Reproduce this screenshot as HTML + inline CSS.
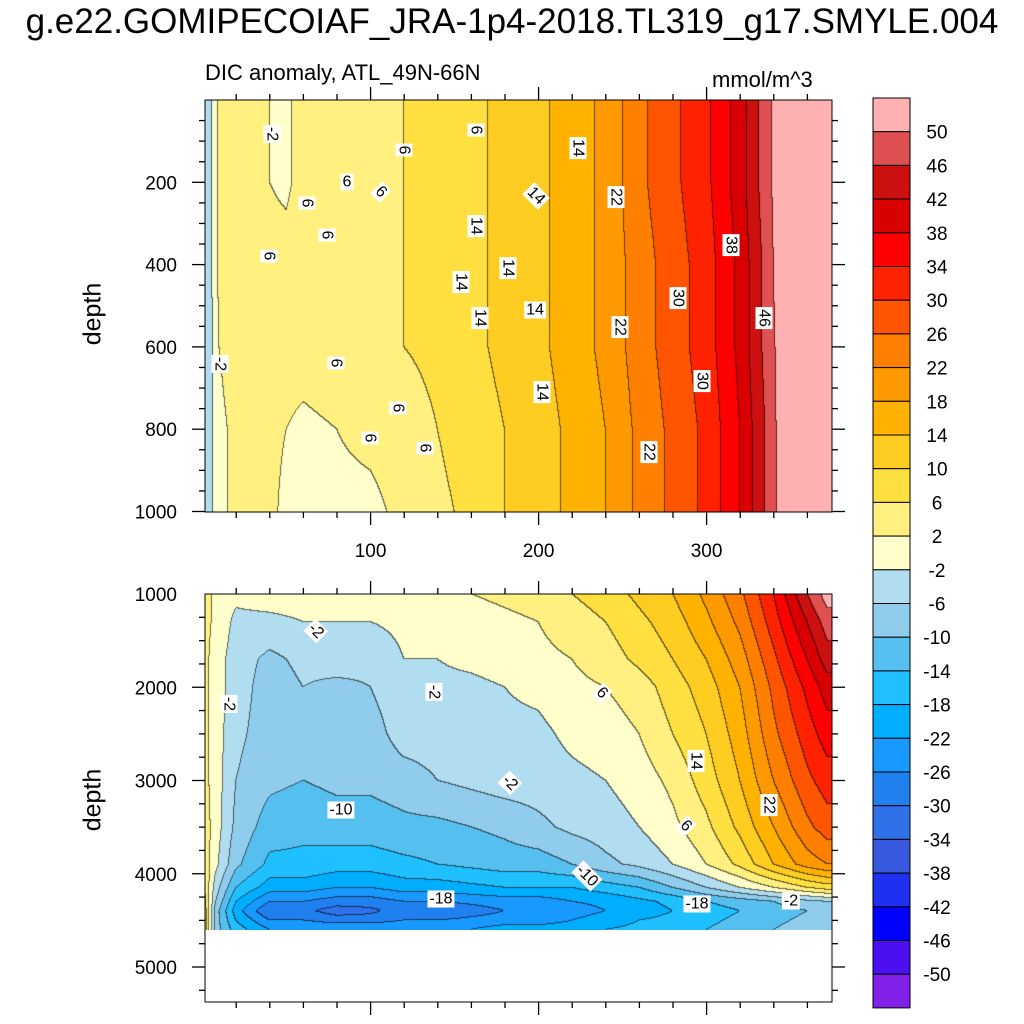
<!DOCTYPE html>
<html><head><meta charset="utf-8">
<style>
html,body{margin:0;padding:0;background:#fff;}
body{width:1024px;height:1024px;position:relative;overflow:hidden;font-family:"Liberation Sans",sans-serif;}
.t{position:absolute;color:#000;white-space:nowrap;}
canvas{position:absolute;}
.lbl{position:absolute;background:#fff;font-size:16px;padding:0 2px;line-height:17px;transform:translate(-50%,-50%) rotate(90deg);}
.lh{transform:translate(-50%,-50%) rotate(0deg);}
.ld{transform:translate(-50%,-50%) rotate(45deg);}
</style></head>
<body>
<div class="t" style="left:0;width:1024px;text-align:center;top:2px;font-size:35px;">g.e22.GOMIPECOIAF_JRA-1p4-2018.TL319_g17.SMYLE.004</div>
<div class="t" style="left:205px;top:60px;font-size:22px;">DIC anomaly, ATL_49N-66N</div>
<div class="t" style="left:712px;top:67px;font-size:22px;">mmol/m^3</div>
<div class="t" style="left:93px;top:314px;font-size:25px;transform:translate(-50%,-50%) rotate(-90deg);">depth</div>
<div class="t" style="left:93px;top:800px;font-size:25px;transform:translate(-50%,-50%) rotate(-90deg);">depth</div>
<canvas id="c1" width="627" height="412" style="left:205px;top:100px;"></canvas>
<canvas id="c2" width="627" height="336" style="left:205px;top:594px;"></canvas>
<svg id="ax" width="1024" height="1024" style="position:absolute;left:0;top:0;"></svg>
<div id="labels"></div>
<script>
// ---- data ----
const levels = [-50,-46,-42,-38,-34,-30,-26,-22,-18,-14,-10,-6,-2,2,6,10,14,18,22,26,30,34,38,42,46,50];
const levelColors = ["#8020E8","#4A10F0","#0000FF","#1E30F0","#3858E0","#3070E8","#2080F0","#1899FF","#00AEFF","#20BFFF","#55C0F0","#90CCEC","#B0DDF0","#FFFFCC","#FFF080","#FFE040","#FFCC22","#FFB300","#FF9900","#FF7F00","#FF5500","#FF2200","#FF0000","#D80000","#CC1010","#E05050","#FFB0B0"];
const topTimes = [0,5,10,20,40,50,60,80,100,120,140,160,180,200,220,240,260,280,300,320,335,345,372];
const topDepths = [0,200,400,600,800,1000];
const topValues = [
[-3,-3,-3,-3,-3,-3],
[-3,-3,-3,-3,-3,-3],
[3,3,3,2,1,1],
[4,4,4,4,3,3],
[2,2,4,4,3,3],
[1,1,4,4,2,1],
[4,4,5,4,1,1],
[5,5,5,5,2,1],
[5,5,5,5,3,1],
[6,6,6,6,4,3],
[8,8,7,7,6,5],
[9,9,9,9,8,7],
[11,11,11,11,10,10],
[13,13,13,13,12,12],
[16,16,16,16,15,15],
[19,19,19,19,18,18],
[25,25,24,24,23,23],
[29,29,28,28,27,27],
[33,33,32,32,31,31],
[40,40,39,39,38,38],
[48,48,47,47,46,46],
[53,53,53,52,52,52],
[56,56,56,56,56,56]];
const botTimes = [0,8,20,40,60,80,100,120,140,160,180,200,220,240,260,280,300,320,340,360,372];
const botDepths = [1000,1300,1700,2000,2500,3000,3500,3900,4150,4300,4400,4500,4600];
const botValues = [
[4,4,4,4,4,4,5,6,8,10,12,12,12],
[1,1,0,0,0,0,0,-1,-4,-6,-8,-8,-8],
[-1,-3,-4,-4,-5,-6,-7,-9,-14,-18,-20,-18,-16],
[0,-3,-7,-8,-8,-9,-12,-15,-20,-26,-30,-26,-22],
[0,-2,-5,-6,-7,-10,-13,-15,-20,-26,-29,-26,-22],
[0,-2,-4,-7,-8,-9,-12,-16,-22,-28,-32,-28,-22],
[0,-2,-5,-6,-8,-9,-12,-16,-22,-28,-31,-28,-22],
[1,-1,-2,-3,-4,-8,-11,-15,-20,-26,-28,-26,-22],
[1,0,-2,-3,-4,-6,-11,-14,-20,-26,-30,-26,-22],
[2,0,-1,-3,-4,-5,-10,-13,-19,-25,-28,-25,-22],
[3,1,0,-2,-3,-4,-9,-12,-18,-24,-26,-24,-20],
[4,2,1,-1,-3,-4,-7,-12,-18,-24,-26,-24,-20],
[6,4,2,1,-1,-3,-5,-10,-18,-22,-24,-22,-20],
[8,6,4,2,0,-2,-4,-7,-16,-21,-22,-20,-18],
[11,9,7,4,2,0,-2,-5,-14,-19,-20,-18,-17],
[14,12,10,8,6,3,1,-2,-10,-17,-18,-17,-16],
[19,17,14,12,10,8,5,2,-6,-14,-16,-15,-14],
[25,23,20,18,16,14,11,7,-2,-12,-14,-13,-12],
[34,32,29,27,25,22,18,14,2,-10,-12,-11,-10],
[46,42,38,35,32,29,25,20,6,-7,-10,-9,-8],
[52,48,44,40,36,32,28,22,8,-6,-8,-8,-8]];
const xTicks = [100,200,300];
const topYTicks = [200,400,600,800,1000];
const botYTicks = [1000,2000,3000,4000,5000];

// ---- scales ----
const X0=205, X1=832;
const xS = t => 202.6 + t*1.68;
const xInv = px => (px-202.6)/1.68;
const yTop = d => 100 + d*0.4115;
const yTopInv = py => (py-100)/0.4115;
const yBot = d => 594 + (d-1000)*0.09325;
const yBotInv = py => 1000 + (py-594)/0.09325;

function idx(arr,v){let i=0;while(i<arr.length-2&&v>arr[i+1])i++;return i;}
function interp(times,depths,vals,t,d){
  t=Math.max(times[0],Math.min(times[times.length-1],t));
  d=Math.max(depths[0],Math.min(depths[depths.length-1],d));
  const i=idx(times,t), j=idx(depths,d);
  const ft=(t-times[i])/(times[i+1]-times[i]), fd=(d-depths[j])/(depths[j+1]-depths[j]);
  const a=vals[i][j],b=vals[i+1][j],c=vals[i][j+1],e=vals[i+1][j+1];
  return (a*(1-ft)+b*ft)*(1-fd)+(c*(1-ft)+e*ft)*fd;
}
function levelIndex(v){let k=0;while(k<levels.length&&v>levels[k])k++;return k;}
function hex(h){return [parseInt(h.substr(1,2),16),parseInt(h.substr(3,2),16),parseInt(h.substr(5,2),16)];}
const rgb = levelColors.map(hex);

function draw(id,top,times,depths,vals,yInv){
  const cv=document.getElementById(id),ctx=cv.getContext('2d');
  const W=cv.width,H=cv.height;
  const img=ctx.createImageData(W,H);
  const L=new Int16Array(W*H);
  for(let y=0;y<H;y++){const d=yInv(top+y+0.5);
    for(let x=0;x<W;x++){const t=xInv(X0+x+0.5);
      L[y*W+x]=levelIndex(interp(times,depths,vals,t,d));}}
  for(let y=0;y<H;y++)for(let x=0;x<W;x++){
    const k=L[y*W+x];let c=rgb[k];
    const edge=(x<W-1&&L[y*W+x+1]!==k)||(y<H-1&&L[(y+1)*W+x]!==k);
    const p=(y*W+x)*4;
    if(edge){img.data[p]=c[0]*0.4;img.data[p+1]=c[1]*0.4;img.data[p+2]=c[2]*0.4;}
    else{img.data[p]=c[0];img.data[p+1]=c[1];img.data[p+2]=c[2];}
    img.data[p+3]=255;}
  ctx.putImageData(img,0,0);
}
draw('c1',100,topTimes,topDepths,topValues,yTopInv);
draw('c2',594,botTimes,botDepths,botValues,yBotInv);

// ---- axes ----
const svg=document.getElementById('ax');
const NS='http://www.w3.org/2000/svg';
function ln(x1,y1,x2,y2,name){const l=document.createElementNS(NS,'line');
  l.setAttribute('x1',x1);l.setAttribute('y1',y1);l.setAttribute('x2',x2);l.setAttribute('y2',y2);
  l.setAttribute('stroke','#000');l.setAttribute('stroke-width','1.3');
  
  
  svg.appendChild(l);}
function tx(x,y,s,anchor,name){const e=document.createElementNS(NS,'text');
  e.setAttribute('x',x);e.setAttribute('y',y);e.setAttribute('text-anchor',anchor);
  e.setAttribute('font-size','19');e.setAttribute('font-family','Liberation Sans, sans-serif');
  e.textContent=s;
  
  
  svg.appendChild(e);}
function rect(x,y,w,h,fill,name){const r=document.createElementNS(NS,'rect');
  r.setAttribute('x',x);r.setAttribute('y',y);r.setAttribute('width',w);r.setAttribute('height',h);
  r.setAttribute('fill',fill);r.setAttribute('stroke','#000');r.setAttribute('stroke-width','1');
  
  
  svg.appendChild(r);}
function panel(yT,yB,yf,yTicksArr,minorStep,dMin,dMax,showX,prefix){
  rect(X0,yT,X1-X0,yB-yT,'none',prefix+'-frame');
  for(let t=20;t<=370;t+=20){const x=xS(t);const major=t%100===0;const L=major?13:6;
    ln(x,yB,x,yB+L,'x-tick');ln(x,yT,x,yT-L,'x-tick');}
  for(let d=dMin+minorStep;d<=dMax;d+=minorStep){const y=yf(d);if(y<yT-0.5||y>yB+0.5)continue;
    const major=yTicksArr.indexOf(d)>=0;const L=major?13:6;
    ln(X0,y,X0-L,y,'y-tick');ln(X1,y,X1+L,y,'y-tick');}
  yTicksArr.forEach(d=>{const y=yf(d);if(y<=yB+1)tx(177,y+7,String(d),'end','y-tick-label');});
  if(showX)xTicks.forEach(t=>tx(xS(t),557,String(t),'middle','x-tick-label'));
}
panel(100,512,yTop,topYTicks,50,0,1000,true,'top-panel');
panel(594,1002,yBot,botYTicks,250,1000,5375,false,'bottom-panel');

// colorbar
const CB0=98, CBh=33.7;
for(let k=0;k<levelColors.length;k++){
  rect(873,CB0+k*CBh,37,CBh,levelColors[levelColors.length-1-k],'colorbar-box');
}
for(let k=0;k<levels.length;k++){
  tx(937,CB0+(k+1)*CBh+7,String(levels[levels.length-1-k]),'middle','colorbar-label');
}

// contour labels
const contourLabels=[
 ["14",578,148,""],["22",616,197,""],["14",536,196,"ld"],["30",678,298,""],["38",731,245,""],["46",764,318,""],
 ["6",476,130,""],["6",404,150,""],["6",347,182,"lh"],["6",381,192,"ld"],["6",307,203,""],["6",327,235,""],["6",269,256,""],
 ["14",476,226,""],["14",508,268,""],["14",461,282,""],["14",480,318,""],["14",535,310,"lh"],["22",620,327,""],
 ["30",702,381,""],["14",542,392,""],["22",649,452,""],["6",336,363,""],["6",398,408,""],["6",370,438,""],["6",425,448,""],
 ["-2",272,134,""],["-2",220,364,""],
 ["-2",316,631,"ld"],["-2",434,692,""],["6",602,693,"ld"],["14",696,761,""],["22",769,805,""],["-2",510,783,"ld"],
 ["6",686,826,"ld"],["-10",341,810,"lh"],["-10",587,876,"ld"],["-18",441,899,"lh"],["-18",697,904,"lh"],["-2",791,901,"lh"],["-2",229,704,""]];
const lab=document.getElementById('labels');
contourLabels.forEach(c=>{const d=document.createElement('div');
  d.className='lbl '+c[3];d.style.left=c[1]+'px';d.style.top=c[2]+'px';d.textContent=c[0];
  
  
  lab.appendChild(d);});
</script>
</body></html>
